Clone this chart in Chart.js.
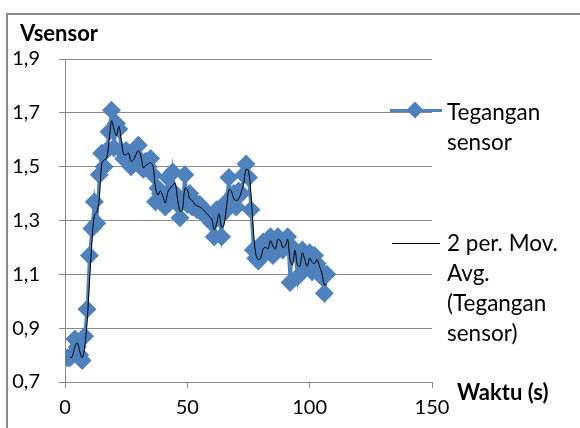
<!DOCTYPE html>
<html>
<head>
<meta charset="utf-8">
<script src="https://cdn.jsdelivr.net/npm/chart.js@4.4.0/dist/chart.umd.min.js"></script>
<style>
  html, body { margin: 0; padding: 0; background: #fff; }
  #wrap { position: relative; width: 580px; height: 428px; overflow: hidden; font-family: Lato, "Open Sans", sans-serif; }
  #frame { position: absolute; left: 6px; top: 13px; width: 700px; height: 600px; border: 2px solid #8a8a8a; }
  canvas { position: absolute; left: 0; top: 0; }
  .title { position: absolute; font-weight: bold; font-size: 22px; color: #000; }
  .leg { position: absolute; left: 447px; font-size: 22.5px; line-height: 30px; color: #000; }
  .sym { position: absolute; }
</style>
</head>
<body>
<div id="wrap">
  <div id="frame"></div>
  <canvas id="chart" width="580" height="428"></canvas>
  <div class="title" style="left:20px; top:19px;">Vsensor</div>
  <div class="title" style="left:457px; top:378px;">Waktu (s)</div>
  <div class="sym" style="left:390px; top:109px; width:52px; height:3px; background:#4f81bd;"></div>
  <div class="sym" style="left:409px; top:104px; width:12px; height:12px; background:#4f81bd; transform:rotate(45deg);"></div>
  <div class="leg" style="top:97px;">Tegangan<br>sensor</div>
  <div class="sym" style="left:392px; top:243px; width:48px; height:1px; background:#000;"></div>
  <div class="leg" style="top:228px;">2 per. Mov.<br>Avg.<br>(Tegangan<br>sensor)</div>
</div>
<script>
// Waktu (s)
const waktu = [1, 2, 3, 4, 5, 6, 7, 8, 9, 10, 11, 12, 13, 14, 15, 16, 17, 18, 19, 20,
  21, 22, 23, 24, 25, 26, 27, 28, 29, 30, 31, 32, 33, 34, 35, 36, 37, 38, 39, 40,
  41, 42, 43, 44, 45, 46, 47, 48, 49, 50, 51, 52, 53, 54, 55, 56, 57, 58, 59, 60,
  61, 62, 63, 64, 65, 66, 67, 68, 69, 70, 71, 72, 73, 74, 75, 76, 77, 78, 79, 80,
  81, 82, 83, 84, 85, 86, 87, 88, 89, 90, 91, 92, 93, 94, 95, 96, 97, 98, 99, 100,
  101, 102, 103, 104, 105, 106, 107];

// Tegangan sensor (V)
const tegangan = [0.79, 0.79, 0.80, 0.86, 0.83, 0.80, 0.78, 0.87, 0.97, 1.17,
  1.27, 1.37, 1.29, 1.47, 1.55, 1.50, 1.56, 1.63, 1.71, 1.57,
  1.66, 1.64, 1.56, 1.53, 1.56, 1.54, 1.50, 1.55, 1.54, 1.58,
  1.50, 1.49, 1.52, 1.50, 1.53, 1.47, 1.37, 1.42, 1.40, 1.38,
  1.35, 1.46, 1.38, 1.48, 1.40, 1.36, 1.31, 1.37, 1.47, 1.36,
  1.40, 1.35, 1.37, 1.34, 1.36, 1.33, 1.34, 1.31, 1.32, 1.29,
  1.24, 1.34, 1.31, 1.24, 1.33, 1.37, 1.46, 1.36, 1.40, 1.35,
  1.41, 1.40, 1.47, 1.51, 1.46, 1.34, 1.19, 1.16, 1.15, 1.17,
  1.22, 1.18, 1.21, 1.24, 1.17, 1.22, 1.24, 1.21, 1.19, 1.22,
  1.24, 1.07, 1.20, 1.18, 1.09, 1.17, 1.19, 1.12, 1.14, 1.18,
  1.11, 1.17, 1.14, 1.12, 1.09, 1.03, 1.10];

const xTicks = [0, 50, 100, 150];
const yTicks = [0.7, 0.9, 1.1, 1.3, 1.5, 1.7, 1.9];

// 2 periode moving average (trendline Excel)
const movAvg = [];
for (let i = 1; i < tegangan.length; i++) {
  movAvg.push({ x: waktu[i], y: (tegangan[i - 1] + tegangan[i]) / 2 });
}

const blue = '#4f81bd';
const gridColor = '#8a8a8a';

new Chart(document.getElementById('chart'), {
  type: 'scatter',
  data: {
    datasets: [{
      label: '2 per. Mov. Avg. (Tegangan sensor)',
      data: movAvg,
      showLine: true,
      borderColor: '#000',
      borderWidth: 1,
      pointRadius: 0,
      tension: 0.35,
      order: 0
    }, {
      label: 'Tegangan sensor',
      data: waktu.map((t, i) => ({ x: t, y: tegangan[i] })),
      showLine: true,
      borderColor: blue,
      borderWidth: 3,
      backgroundColor: blue,
      pointStyle: 'rectRot',
      pointRadius: 9.5,
      pointBorderWidth: 0,
      pointBackgroundColor: blue,
      order: 1
    }]
  },
  options: {
    responsive: false,
    animation: false,
    layout: { padding: { left: 0, right: 148, top: 59, bottom: 0 } },
    plugins: {
      legend: { display: false },
      tooltip: { enabled: false }
    },
    scales: {
      x: {
        type: 'linear',
        min: 0,
        max: 150,
        afterBuildTicks: s => { s.ticks = xTicks.map(v => ({ value: v })); },
        afterFit: s => { s.height = 46; },
        grid: { display: true, drawOnChartArea: false, color: gridColor, tickLength: 6 },
        border: { color: gridColor, width: 1 },
        ticks: { color: '#000', padding: 8, font: { family: 'Lato', size: 20 } }
      },
      y: {
        min: 0.7,
        max: 1.9,
        afterBuildTicks: s => { s.ticks = yTicks.map(v => ({ value: v })); },
        afterFit: s => { s.width = 65; },
        grid: { color: gridColor, tickLength: 6 },
        border: { color: gridColor, width: 1 },
        ticks: {
          color: '#000',
          padding: 19,
          font: { family: 'Lato', size: 20 },
          callback: v => v.toFixed(1).replace('.', ',')
        }
      }
    }
  }
});
</script>
</body>
</html>
